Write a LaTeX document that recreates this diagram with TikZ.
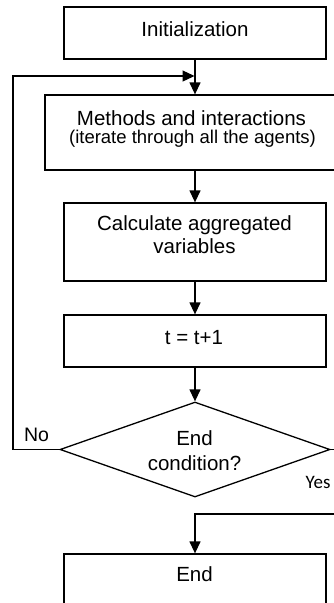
\documentclass[tikz,border=0pt]{standalone}
\usepackage{fontspec}
\setmainfont{Liberation Sans}
\newfontfamily\yesfont{Carlito}
\usetikzlibrary{shapes.geometric,arrows.meta}

\begin{document}
\begin{tikzpicture}[x=1pt,y=1pt,
  line width=1.3pt,
  flowbox/.style={draw,rectangle,inner sep=0pt,minimum width=262pt},
  decision/.style={draw,diamond,inner sep=0pt,minimum width=270pt,minimum height=95pt},
  txt/.style={anchor=base,inner sep=0pt,font=\fontsize{20.5}{24}\selectfont},
  smalltxt/.style={anchor=base,inner sep=0pt,font=\fontsize{18.5}{22}\selectfont},
  flow/.style={-{Triangle[length=12pt,width=11pt]}}
]
\clip (0,0) rectangle (334,-603);
\fill[white] (0,0) rectangle (334,-603);

% boxes
\node[flowbox,minimum height=52pt] (init) at (195,-33) {};
\node[flowbox,minimum width=300pt,minimum height=75pt] (methods) at (195,-132.5) {};
\node[flowbox,minimum height=78pt] (calc) at (195,-242) {};
\node[flowbox,minimum height=52pt] (tinc) at (195,-341) {};
\node[decision] (cond) at (195,-449.5) {};
\node[flowbox,minimum height=60pt] (finish) at (195,-584) {};

% box texts
\node[txt] (initT) at (195,-36) {Initialization};
\node[txt] (methT1) at (191.5,-125) {Methods and interactions};
\node[smalltxt] (methT2) at (192.5,-143.3) {(iterate through all the agents)};
\node[txt] (calcT1) at (194.5,-230) {Calculate aggregated};
\node[txt] (calcT2) at (194.5,-253.3) {variables};
\node[txt] (tincT) at (194,-344) {t = t+1};
\node[txt] (condT1) at (194.5,-445.7) {End};
\node[txt] (condT2) at (194.5,-470) {condition?};
\node[txt] (finishT) at (194.5,-581.7) {End};

% branch labels
\node[anchor=base west,inner sep=0pt,font=\fontsize{19.5}{23}\selectfont] (noL) at (23.5,-441) {No};
\node[anchor=base west,inner sep=0pt,font=\yesfont\fontsize{19}{23}\selectfont] (yesL) at (305,-488) {Yes};

% main sequence
\draw[flow] (init.south) -- (methods.north);
\draw[flow] (methods.south) -- (calc.north);
\draw[flow] (calc.south) -- (tinc.north);
\draw[flow] (tinc.south) -- (cond.north);

% loop back on "No"
\coordinate (loopL) at (13,-76);
\coordinate (join) at (194.5,-76);
\draw[flow] (cond.west) -| (loopL) -- (join);

% exit on "Yes"
\coordinate (outR) at (350,-449.5);
\coordinate (backY) at (195,-514);
\draw[flow] (cond.east) -- (outR) |- (backY) -- (finish.north);
\end{tikzpicture}
\end{document}
